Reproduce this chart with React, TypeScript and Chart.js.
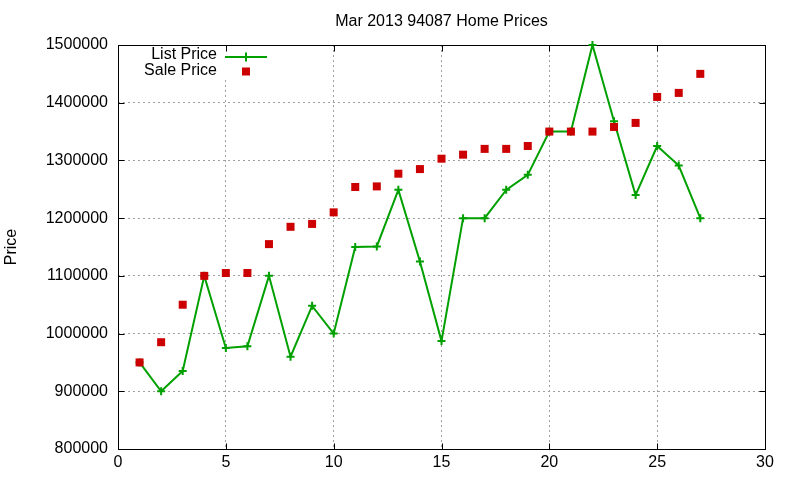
import { useEffect, useRef } from "react"
import { Chart, registerables } from "chart.js"

Chart.register(...registerables)

const FONT = "'Liberation Sans', Arial, sans-serif"

// day of month (x) and prices
const days = [1, 2, 3, 4, 5, 6, 7, 8, 9, 10, 11, 12, 13, 14, 15, 16, 17, 18, 19, 20, 21, 22, 23, 24, 25, 26, 27]
const listPrices = [
  950000, 900000, 935000, 1100000, 975000, 978000, 1100000, 960000, 1048000, 1000000,
  1150000, 1151000, 1249000, 1125000, 987000, 1200000, 1200000, 1249000, 1275000, 1350000,
  1350000, 1500000, 1368000, 1240000, 1325000, 1291000, 1200000,
]
const salePrices = [
  950000, 985000, 1050000, 1100000, 1105000, 1105000, 1155000, 1185000, 1190000, 1210000,
  1254000, 1255000, 1277000, 1285000, 1303000, 1310000, 1320000, 1320000, 1325000, 1350000,
  1350000, 1350000, 1358000, 1365000, 1410000, 1417000, 1450000,
]
const xTicks = [0, 5, 10, 15, 20, 25, 30]
const yTicks = [800000, 900000, 1000000, 1100000, 1200000, 1300000, 1400000, 1500000]

const GREEN = "#00a000"
const RED = "#cc0000"

// gnuplot style frame, inward ticks and the key in the top left corner
const gnuplotFrame = {
  id: "gnuplotFrame",
  beforeDatasetsDraw(chart: any) {
    const { ctx, chartArea, scales } = chart
    const { left, right, top, bottom } = chartArea
    ctx.save()
    // key area hides the grid
    ctx.fillStyle = "#fff"
    ctx.fillRect(left + 1, top + 1, 152, 33)

    ctx.strokeStyle = "#000"
    ctx.lineWidth = 1
    ctx.strokeRect(left + 0.5, top + 0.5, right - left, bottom - top)

    const len = 6
    ctx.beginPath()
    scales.x.ticks.forEach((t: any) => {
      const px = Math.round(scales.x.getPixelForValue(t.value)) + 0.5
      ctx.moveTo(px, bottom + 0.5)
      ctx.lineTo(px, bottom + 0.5 - len)
      ctx.moveTo(px, top + 0.5)
      ctx.lineTo(px, top + 0.5 + len)
    })
    scales.y.ticks.forEach((t: any) => {
      const py = Math.round(scales.y.getPixelForValue(t.value)) + 0.5
      ctx.moveTo(left + 0.5, py)
      ctx.lineTo(left + 0.5 + len, py)
      ctx.moveTo(right + 0.5, py)
      ctx.lineTo(right + 0.5 - len, py)
    })
    ctx.stroke()
    ctx.restore()
  },
  afterDraw(chart: any) {
    const { ctx, chartArea } = chart
    const list = chart.data.datasets[1]
    const sale = chart.data.datasets[0]
    const textRight = chartArea.left + 99
    const sampleX = chartArea.left + 128
    ctx.save()
    ctx.font = `16px ${FONT}`
    ctx.fillStyle = "#000"
    ctx.textAlign = "right"
    ctx.textBaseline = "middle"
    ctx.fillText(list.label, textRight, 55)
    ctx.fillText(sale.label, textRight, 70.5)

    ctx.strokeStyle = list.borderColor
    ctx.lineWidth = 2
    ctx.beginPath()
    ctx.moveTo(sampleX - 21, 57)
    ctx.lineTo(sampleX + 21, 57)
    ctx.moveTo(sampleX, 52.5)
    ctx.lineTo(sampleX, 61.5)
    ctx.stroke()

    ctx.fillStyle = sale.backgroundColor
    ctx.fillRect(sampleX - 4, 67.5, 8, 8)
    ctx.restore()
  },
}

export default function App() {
  const chartRef = useRef<HTMLCanvasElement>(null)
  const chartInstance = useRef<Chart | null>(null)

  useEffect(() => {
    if (!chartRef.current) return
    if (chartInstance.current) chartInstance.current.destroy()
    const ctx = chartRef.current.getContext("2d")
    if (!ctx) return

    chartInstance.current = new Chart(ctx, {
      type: "line",
      data: {
        datasets: [
          {
            label: "Sale Price",
            data: days.map((d, i) => ({ x: d, y: salePrices[i] })),
            showLine: false,
            pointStyle: "rect",
            pointRadius: 5.66,
            pointBorderWidth: 0,
            backgroundColor: RED,
            borderColor: RED,
            pointBackgroundColor: RED,
            clip: false,
            order: 0,
          },
          {
            label: "List Price",
            data: days.map((d, i) => ({ x: d, y: listPrices[i] })),
            borderColor: GREEN,
            borderWidth: 2,
            pointStyle: "cross",
            pointRadius: 4,
            pointBorderWidth: 2,
            pointBorderColor: GREEN,
            backgroundColor: GREEN,
            fill: false,
            tension: 0,
            clip: false,
            order: 1,
          },
        ],
      },
      options: {
        responsive: false,
        animation: false,
        layout: { padding: { left: 0, right: 35, top: 0, bottom: 0 } },
        plugins: {
          legend: { display: false },
          tooltip: { enabled: false },
          title: {
            display: true,
            text: "Mar 2013 94087 Home Prices",
            fullSize: false,
            color: "#000",
            font: { family: FONT, size: 16, weight: "normal", lineHeight: 1.2 },
            padding: { top: 12, bottom: 13.8 },
          },
        },
        scales: {
          x: {
            type: "linear",
            min: 0,
            max: 30,
            afterBuildTicks: (s: any) => {
              s.ticks = xTicks.map((v) => ({ value: v }))
            },
            afterFit: (s: any) => {
              s.height = 31
            },
            ticks: {
              color: "#000",
              padding: 4,
              font: { family: FONT, size: 16 },
              callback: (v: any) => String(v),
            },
            grid: { color: "#a0a0a0", lineWidth: 1, drawTicks: false },
            border: { display: false, dash: [2, 3] },
          },
          y: {
            type: "linear",
            min: 800000,
            max: 1500000,
            afterBuildTicks: (s: any) => {
              s.ticks = yTicks.map((v) => ({ value: v }))
            },
            afterFit: (s: any) => {
              s.width = 118
            },
            ticks: {
              color: "#000",
              padding: 10,
              font: { family: FONT, size: 16 },
              callback: (v: any) => String(v),
            },
            title: {
              display: true,
              text: "Price",
              color: "#000",
              font: { family: FONT, size: 16, lineHeight: 1.2 },
              padding: { top: 2, bottom: 0 },
            },
            grid: { color: "#a0a0a0", lineWidth: 1, drawTicks: false },
            border: { display: false, dash: [2, 3] },
          },
        },
      },
      plugins: [gnuplotFrame],
    })

    return () => {
      if (chartInstance.current) {
        chartInstance.current.destroy()
        chartInstance.current = null
      }
    }
  }, [])

  return (
    <div style={{ position: "absolute", left: 0, top: 0, width: 800, height: 480, background: "#fff" }}>
      <canvas ref={chartRef} width={800} height={480} />
    </div>
  )
}
